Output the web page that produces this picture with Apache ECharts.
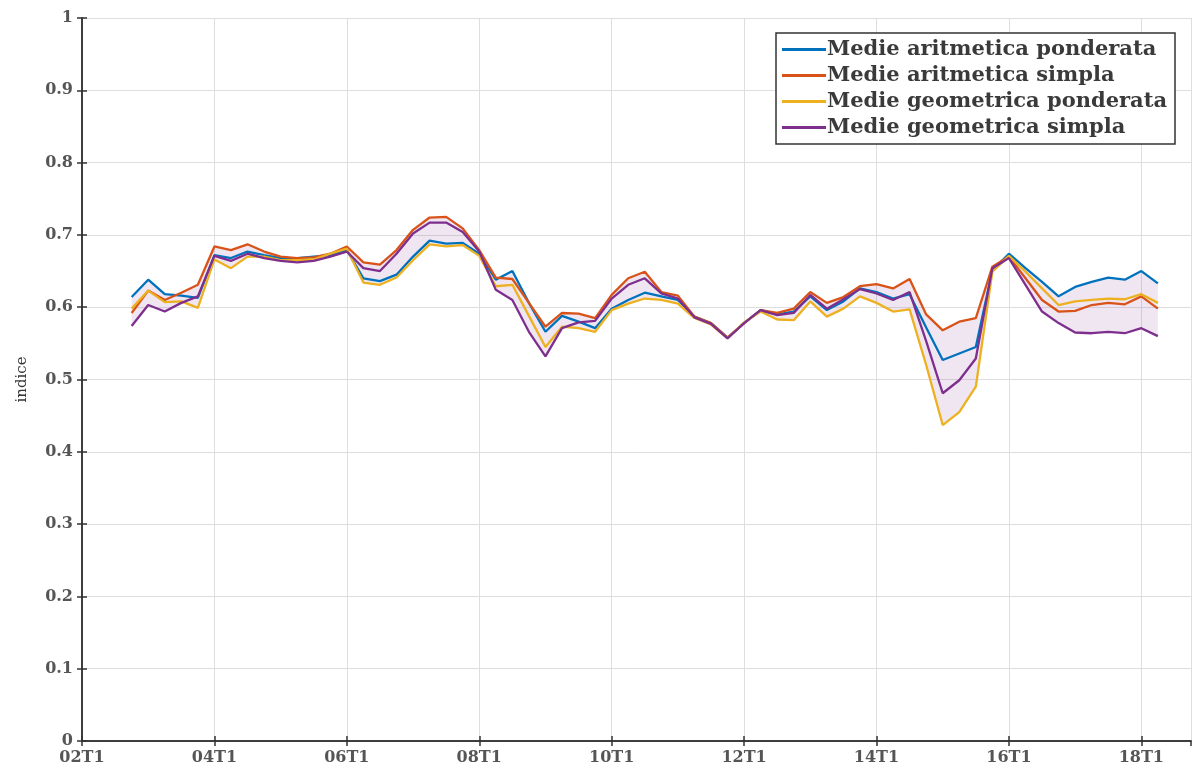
<!DOCTYPE html>
<html>
<head>
<meta charset="utf-8">
<script src="https://cdn.jsdelivr.net/npm/echarts@6/dist/echarts.min.js"></script>
<style>html,body{margin:0;padding:0;background:#fff}#c{width:1196px;height:771px}</style>
</head>
<body>
<div id="c"></div>
<script>
const quarters = ['02T4',
 '03T1','03T2','03T3','03T4','04T1','04T2','04T3','04T4','05T1','05T2','05T3','05T4',
 '06T1','06T2','06T3','06T4','07T1','07T2','07T3','07T4','08T1','08T2','08T3','08T4',
 '09T1','09T2','09T3','09T4','10T1','10T2','10T3','10T4','11T1','11T2','11T3','11T4',
 '12T1','12T2','12T3','12T4','13T1','13T2','13T3','13T4','14T1','14T2','14T3','14T4',
 '15T1','15T2','15T3','15T4','16T1','16T2','16T3','16T4','17T1','17T2','17T3','17T4',
 '18T1','18T2'];
const xTickLabels = ['02T1','04T1','06T1','08T1','10T1','12T1','14T1','16T1','18T1'];
const seriesNames = ['Medie aritmetica ponderata','Medie aritmetica simpla','Medie geometrica ponderata','Medie geometrica simpla'];

const aritPond = [0.614,
 0.638,0.618,0.616,0.613,0.672,0.668,0.677,0.672,0.668,0.668,0.670,0.672,
 0.679,0.640,0.636,0.645,0.670,0.692,0.688,0.689,0.674,0.638,0.650,0.606,
 0.566,0.588,0.580,0.571,0.598,0.610,0.620,0.615,0.610,0.587,0.578,0.558,
 0.578,0.596,0.590,0.594,0.615,0.596,0.608,0.626,0.621,0.612,0.618,0.572,
 0.527,0.536,0.545,0.651,0.674,0.654,0.635,0.615,0.628,0.635,0.641,0.638,
 0.650,0.633];
const aritSimpla = [0.592,
 0.623,0.610,0.620,0.631,0.684,0.679,0.687,0.677,0.670,0.668,0.669,0.674,
 0.684,0.662,0.659,0.679,0.707,0.724,0.725,0.709,0.679,0.641,0.639,0.606,
 0.573,0.592,0.591,0.585,0.617,0.640,0.649,0.621,0.616,0.587,0.578,0.558,
 0.578,0.596,0.592,0.598,0.621,0.606,0.614,0.629,0.632,0.626,0.639,0.590,
 0.568,0.580,0.585,0.656,0.670,0.640,0.610,0.594,0.595,0.603,0.606,0.604,
 0.615,0.598];
const geomPond = [0.598,
 0.623,0.607,0.608,0.599,0.666,0.654,0.670,0.670,0.665,0.665,0.666,0.674,
 0.681,0.634,0.631,0.641,0.665,0.687,0.684,0.686,0.671,0.629,0.631,0.588,
 0.545,0.573,0.571,0.566,0.596,0.605,0.612,0.610,0.605,0.585,0.576,0.557,
 0.579,0.594,0.583,0.582,0.608,0.587,0.598,0.615,0.606,0.594,0.597,0.520,
 0.437,0.455,0.490,0.649,0.671,0.649,0.626,0.603,0.608,0.610,0.612,0.611,
 0.618,0.606];
const geomSimpla = [0.574,
 0.603,0.594,0.606,0.615,0.671,0.664,0.674,0.668,0.664,0.662,0.664,0.670,
 0.677,0.654,0.650,0.674,0.702,0.717,0.717,0.704,0.677,0.624,0.610,0.566,
 0.532,0.571,0.579,0.581,0.612,0.631,0.640,0.619,0.612,0.586,0.577,0.557,
 0.578,0.596,0.589,0.592,0.617,0.598,0.611,0.625,0.619,0.610,0.621,0.553,
 0.481,0.499,0.529,0.654,0.668,0.631,0.594,0.578,0.565,0.564,0.566,0.564,
 0.571,0.560];

function qIndex(q){ return (parseInt(q.slice(0,2),10)-2)*4 + (parseInt(q.slice(3),10)-1); }
const xs = quarters.map(qIndex);
const all = [aritPond, aritSimpla, geomPond, geomSimpla];
const bandData = xs.map((x,i)=>[x, Math.min(...all.map(s=>s[i])), Math.max(...all.map(s=>s[i]))]);
const colors = ['#0072BD','#D95319','#EDB120','#7E2F8E'];
const font = 'DejaVu Serif';

const chart = echarts.init(document.getElementById('c'));
const lineSeries = all.map((s,k)=>({
  name: seriesNames[k], type:'line', symbol:'none', z: 5+k,
  data: xs.map((x,i)=>[x, s[i]]),
  lineStyle:{color:colors[k], width:2.3}, itemStyle:{color:colors[k]}
}));
const bandSeries = {
  name:'band', type:'custom', silent:true, z:1,
  data: bandData,
  encode:{x:0, y:[1,2]},
  renderItem:function(params, api){
    if (params.dataIndex !== 0) return null;
    const top = [], bot = [];
    for (let i=0;i<bandData.length;i++){
      top.push(api.coord([bandData[i][0], bandData[i][2]]));
      bot.push(api.coord([bandData[i][0], bandData[i][1]]));
    }
    const pts = top.concat(bot.reverse());
    return {type:'polygon', shape:{points:pts}, style:{fill:'rgba(126,47,142,0.12)', stroke:null}};
  }
};
chart.setOption({
  animation:false,
  grid:{left:82, right:5, top:18, bottom:30},
  legend:{
    data: seriesNames, orient:'vertical', left:776, top:33,
    backgroundColor:'#fff', borderColor:'#333', borderWidth:1.5,
    padding:[6,8,6,6], itemGap:5, itemWidth:44, itemHeight:3, icon:'rect',
    textStyle:{fontFamily:font, fontSize:21, fontWeight:'bold', color:'#3a3a3a', padding:[0,0,0,-4]}
  },
  xAxis:[{
    type:'value', min:0, max:67, interval:8,
    axisLine:{lineStyle:{color:'#333', width:1.5}},
    axisTick:{inside:true, length:5, lineStyle:{color:'#333', width:1.5}},
    axisLabel:{fontFamily:font, fontSize:16, fontWeight:'bold', color:'#555', margin:9, showMaxLabel:false,
      formatter:v=> (v%8===0 ? xTickLabels[v/8] : '')},
    splitLine:{lineStyle:{color:'#dedede', width:1}}
  },{
    type:'value', min:0, max:67, interval:8, position:'top',
    axisLine:{lineStyle:{color:'#333', width:1.5}},
    axisTick:{inside:true, length:5, lineStyle:{color:'#333', width:1.5}},
    axisLabel:{show:false}, splitLine:{show:false}
  }],
  yAxis:[{
    type:'value', min:0, max:1, interval:0.1,
    name:'indice', nameLocation:'middle', nameGap:52, nameRotate:90,
    nameTextStyle:{fontFamily:font, fontSize:15, color:'#333'},
    axisLine:{show:true, lineStyle:{color:'#333', width:1.5}},
    axisTick:{show:true, inside:true, length:5, lineStyle:{color:'#333', width:1.5}},
    axisLabel:{fontFamily:font, fontSize:16, fontWeight:'bold', color:'#555', margin:9,
      formatter:v=> (Math.round(v*10)/10).toString()},
    splitLine:{lineStyle:{color:'#dedede', width:1}}
  },{
    type:'value', min:0, max:1, interval:0.1, position:'right',
    axisLine:{show:true, lineStyle:{color:'#333', width:1.5}},
    axisTick:{show:true, inside:true, length:5, lineStyle:{color:'#333', width:1.5}},
    axisLabel:{show:false}, splitLine:{show:false}
  }],
  series:[bandSeries].concat(lineSeries)
});
</script>
</body>
</html>
